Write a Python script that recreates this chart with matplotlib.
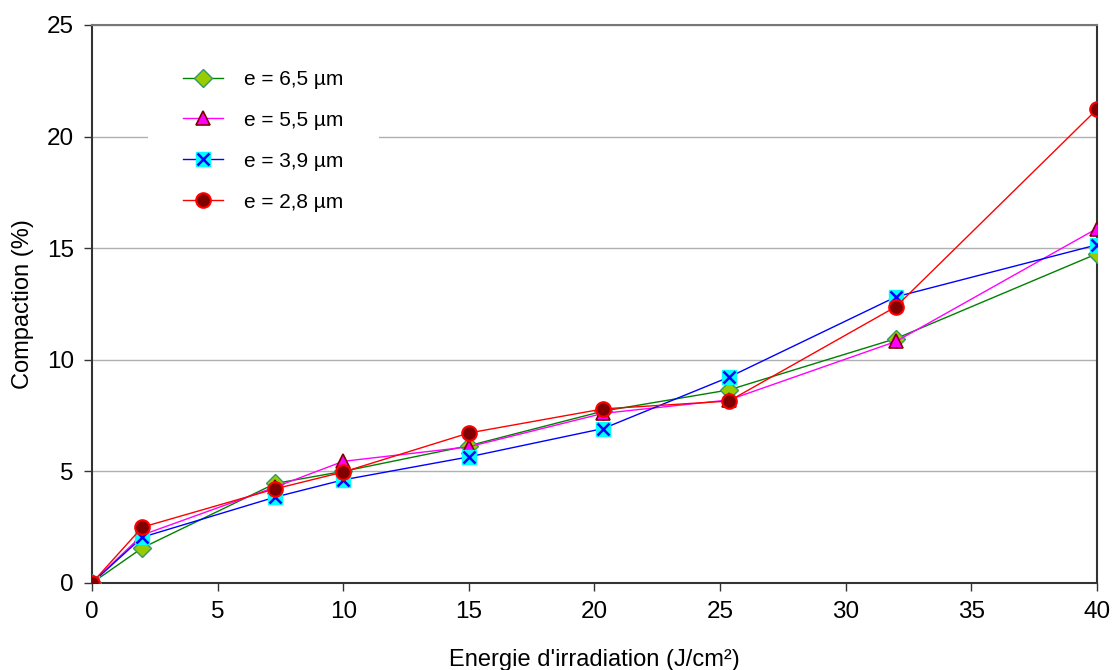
import matplotlib
matplotlib.use('Agg')
import matplotlib.pyplot as plt
from matplotlib.legend_handler import HandlerTuple

plt.rcParams['font.family'] = ['Liberation Sans', 'DejaVu Sans']

# energy (J/cm2)
energie = [0, 2, 7.3, 10, 15, 20.35, 25.35, 32, 40]

# compaction (%) for each thickness
e65 = [0, 1.57, 4.46, 5.0, 6.15, 7.7, 8.65, 10.95, 14.75]
e55 = [0, 2.15, 4.3, 5.45, 6.1, 7.6, 8.2, 10.82, 15.88]
e39 = [0, 2.05, 3.85, 4.62, 5.65, 6.92, 9.22, 12.82, 15.15]
e28 = [0, 2.5, 4.22, 4.97, 6.72, 7.8, 8.15, 12.38, 21.22]

labels = ['e = 6,5 µm', 'e = 5,5 µm', 'e = 3,9 µm', 'e = 2,8 µm']

fig = plt.figure(figsize=(11.14, 6.7), dpi=100)
ax = fig.add_axes([0.0826, 0.1299, 0.9021, 0.8328])

h1, = ax.plot(energie, e65, color='#008000', lw=1, marker='D', ms=9.5,
              mfc='#99cc00', mec='#339966', mew=1, zorder=3)
h2, = ax.plot(energie, e55, color='#ff00ff', lw=1, marker='^', ms=10.5,
              mfc='#ff00ff', mec='#800000', mew=1.2, zorder=3)
# blue series: cyan square with a blue cross on top
h3a, = ax.plot(energie, e39, color='#0000ff', lw=1, marker='s', ms=9.5,
               mfc='#00ffff', mec='#00ffff', zorder=3)
h3b, = ax.plot(energie, e39, ls='none', marker='x', ms=8.5,
               mec='#0000ff', mew=1.8, zorder=3)
h4, = ax.plot(energie, e28, color='#ff0000', lw=1, marker='o', ms=10.5,
              mfc='#800000', mec='#ff0000', mew=1.5, zorder=4)

ax.set_xlim(0, 40)
ax.set_ylim(0, 25)
ax.set_xticks(range(0, 41, 5))
ax.set_yticks(range(0, 26, 5))
ax.yaxis.grid(True, color='#b0b0b0', lw=1)
ax.set_axisbelow(True)

for side in ['left', 'bottom', 'right']:
    ax.spines[side].set_color('#333333')
    ax.spines[side].set_linewidth(1.5)
ax.spines['top'].set_color('#777777')
ax.spines['top'].set_linewidth(1.5)

ax.tick_params(direction='out', length=6, width=1, color='#333333',
               labelsize=17.5, pad=7)
ax.set_xlabel("Energie d'irradiation (J/cm²)", fontsize=17, labelpad=19)
ax.set_ylabel('Compaction (%)', fontsize=17, labelpad=9)

leg = ax.legend([h1, h2, (h3a, h3b), h4], labels,
                handler_map={tuple: HandlerTuple(ndivide=1, pad=0)},
                loc='upper left', bbox_to_anchor=(0.0557, 0.983),
                borderaxespad=0,
                frameon=True, fancybox=False, edgecolor='none',
                facecolor='white', framealpha=1, fontsize=15,
                labelspacing=1.05, handlelength=1.9, handletextpad=1.0,
                borderpad=1.7)
leg.get_frame().set_linewidth(0)

fig.savefig('out.png', dpi=100)
